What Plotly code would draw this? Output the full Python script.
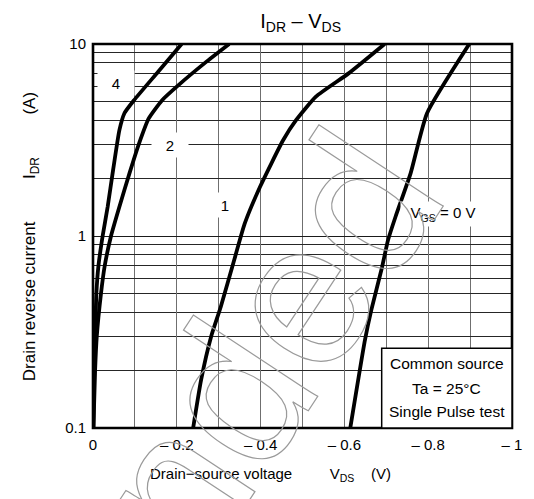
import plotly.graph_objects as go

# Drain reverse current vs drain-source voltage, one curve per gate voltage
vds_4 = [-0.001, -0.003, -0.005, -0.008, -0.013, -0.023, -0.035, -0.048, -0.063, -0.075, -0.098, -0.155, -0.2115]
idr_4 = [0.1, 0.2, 0.3, 0.5, 0.7, 1.0, 1.42, 2.21, 3.56, 4.36, 5.1, 7.15, 10]

vds_2 = [-0.001, -0.005, -0.009, -0.019, -0.028, -0.043, -0.063, -0.087, -0.110, -0.133, -0.165, -0.204, -0.268, -0.325]
idr_2 = [0.1, 0.2, 0.3, 0.5, 0.7, 1.0, 1.42, 2.12, 3.04, 4.1, 5.1, 6.11, 8.0, 10]

vds_1 = [-0.239, -0.258, -0.282, -0.305, -0.337, -0.362, -0.399, -0.454, -0.485, -0.532, -0.610, -0.696]
idr_1 = [0.1, 0.178, 0.30, 0.428, 0.75, 1.16, 1.81, 3.16, 4.02, 5.32, 7.03, 10]

vds_0 = [-0.614, -0.649, -0.664, -0.690, -0.704, -0.722, -0.758, -0.797, -0.898]
idr_0 = [0.1, 0.287, 0.41, 0.69, 0.95, 1.26, 2.12, 4.35, 10]

x_tickvals = [0, -0.2, -0.4, -0.6, -0.8, -1]
x_ticktext = ["0", "\u2013 0.2", "\u2013 0.4", "\u2013 0.6", "\u2013 0.8", "\u2013 1"]
x_minor = [-0.1, -0.3, -0.5, -0.7, -0.9]
y_tickvals = [0.1, 1, 10]
y_ticktext = ["0.1", "1", "10"]
y_minor = [0.2, 0.3, 0.4, 0.5, 0.6, 0.7, 0.8, 0.9, 2, 3, 4, 5, 6, 7, 8, 9]

FONT = "Liberation Sans, Arial, sans-serif"
NB = "\u00a0"

fig = go.Figure()
for xs, ys in [(vds_4, idr_4), (vds_2, idr_2), (vds_1, idr_1), (vds_0, idr_0)]:
    fig.add_trace(go.Scatter(
        x=xs, y=ys, mode="lines",
        line=dict(color="black", width=3.8, shape="spline", smoothing=0.5),
        showlegend=False, hoverinfo="skip",
    ))

fig.update_layout(
    width=534, height=499,
    margin=dict(l=93, r=14, t=44, b=71),
    paper_bgcolor="white", plot_bgcolor="white",
    font=dict(family=FONT, size=15, color="black"),
    title=dict(text="I<sub>DR</sub>" + NB + "\u2013" + NB + "V<sub>DS</sub>", x=0.563, xanchor="center",
               y=0.958, yanchor="middle", font=dict(size=20)),
    xaxis=dict(
        range=[0, -1], tickmode="array", tickvals=x_tickvals, ticktext=x_ticktext,
        showgrid=True, gridcolor="#6f6f6f", gridwidth=1.2, zeroline=False,
        ticks="", ticklabelstandoff=6, showline=False,
        minor=dict(tickvals=x_minor, showgrid=True, gridcolor="#6f6f6f", gridwidth=1.2, ticks=""),
    ),
    yaxis=dict(
        type="log", range=[-1, 1], tickmode="array", tickvals=y_tickvals, ticktext=y_ticktext,
        showgrid=True, gridcolor="#1a1a1a", gridwidth=1, zeroline=False,
        ticks="", ticklabelstandoff=6, showline=False,
        minor=dict(tickvals=y_minor, showgrid=True, gridcolor="#262626", gridwidth=1, ticks=""),
    ),
)

# plot frame
fig.add_shape(type="rect", xref="paper", yref="paper", x0=0, x1=1, y0=0, y1=1,
              line=dict(color="black", width=2.6), layer="above")

# conditions box
fig.add_shape(type="rect", xref="paper", yref="paper", x0=0.689, x1=1, y0=0, y1=0.208,
              line=dict(color="black", width=1.5), fillcolor="white", layer="above")
for txt, yy in [("Common source", 0.1667), ("Ta = 25\u00b0C", 0.104), ("Single Pulse test", 0.0417)]:
    fig.add_annotation(text=txt, xref="paper", yref="paper", x=0.844, y=yy,
                       showarrow=False, font=dict(size=15.5), xanchor="center", yanchor="middle")

# curve labels (gate voltage)
for txt, px, py, w in [("4", 116, 83, 32), ("2", 171, 145, 32), ("1", 228, 205, 28),
                       ("V<sub>GS</sub> = 0 V", 450, 214, 80)]:
    fig.add_annotation(text=txt, xref="paper", yref="paper",
                       x=(px - 93) / 427, y=(428 - py) / 384, showarrow=False,
                       font=dict(size=15), bgcolor="white", width=w, height=20, borderpad=2,
                       xanchor="center", yanchor="middle")

# axis titles
fig.add_annotation(text="Drain\u2212source voltage" + NB * 9 + "V<sub>DS</sub>" + NB * 4 + "(V)",
                   xref="paper", yref="paper", x=(274 - 93) / 427, y=(428 - 474) / 384,
                   showarrow=False, font=dict(size=15), xanchor="center", yanchor="middle")
fig.add_annotation(text="Drain reverse current" + NB * 9 + "I<sub>DR</sub>" + NB * 9 + "(A)",
                   xref="paper", yref="paper", x=(30 - 93) / 427, y=(428 - 237) / 384,
                   showarrow=False, font=dict(size=17), textangle=-90,
                   xanchor="center", yanchor="middle")

# watermark lettering
fig.add_annotation(text="nded", xref="paper", yref="paper",
                   x=(268 - 93) / 427, y=(428 - 346) / 384, showarrow=False,
                   font=dict(size=205, color="#9a9a9a", family=FONT), textangle=-56.6,
                   xanchor="center", yanchor="middle")

outline_js = """
var gd = document.getElementById('{plot_id}');
gd.querySelectorAll('.annotation-text').forEach(function(t) {
  if (t.textContent === 'nded') {
    t.style.fill = 'none';
    t.style.stroke = '#9a9a9a';
    t.style.strokeWidth = '1.2px';
  }
});
"""

fig.write_html("out.html", post_script=outline_js)
